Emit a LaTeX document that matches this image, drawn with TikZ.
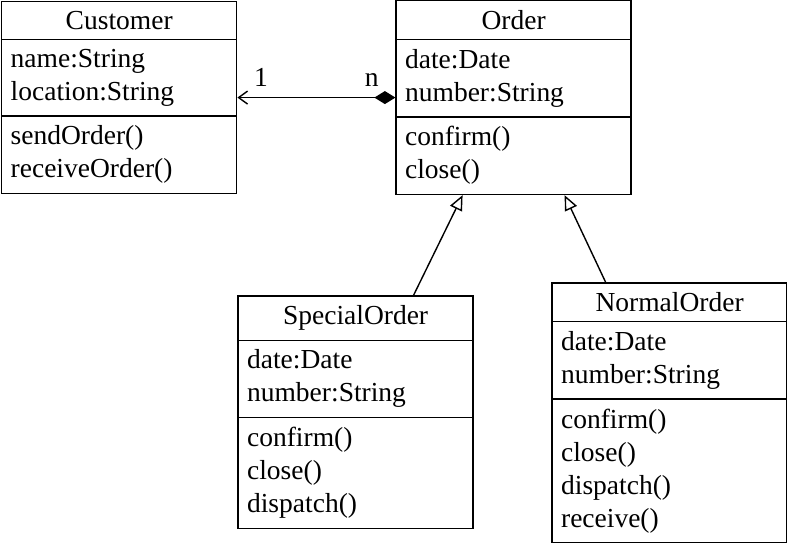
\documentclass[tikz,border=0pt]{standalone}
\usepackage{fontspec}
\setmainfont{Liberation Serif}
\usepackage{tikz}
\usetikzlibrary{arrows.meta, positioning, shapes.multipart}

\begin{document}
\begin{tikzpicture}[
    classbox/.style={draw, line width=0.7pt, rectangle split, rectangle split parts=3,
        text width=108.5pt, inner xsep=4.5pt, inner ysep=4.5pt,
        font=\fontsize{13.75pt}{16.5pt}\selectfont},
    assoc/.style={line width=0.7pt, {Diamond[length=10.5pt, width=6.5pt]}-{Straight Barb[length=4.5pt, width=6.5pt]}},
    inherit/.style={line width=0.7pt, -{Triangle[open, length=7.5pt, width=6.5pt]}},
    mult/.style={font=\fontsize{13.75pt}{16.5pt}\selectfont, inner sep=1pt},
]
\useasboundingbox (0,0) rectangle (393.5pt,-271pt);

% Classes
\node[classbox, anchor=north west] (customer) at (0.5pt,-0.5pt)
    {{\centering Customer\par} \nodepart{two} name:String\\location:String \nodepart{three} sendOrder()\\receiveOrder()};
\node[classbox, right=79pt of customer] (order)
    {{\centering Order\par} \nodepart{two} date:Date\\number:String \nodepart{three} confirm()\\close()};

% Subclasses
\node[classbox, below=50pt of order, xshift=-79pt] (special)
    {{\centering SpecialOrder\par} \nodepart{two} date:Date\\number:String \nodepart{three} confirm()\\close()\\dispatch()};
\node[classbox, below=43.5pt of order, xshift=78pt] (normal)
    {{\centering NormalOrder\par} \nodepart{two} date:Date\\number:String \nodepart{three} confirm()\\close()\\dispatch()\\receive()};

% Association
\draw[assoc] (order.west) -- node[mult, pos=0.15, above=4pt] (mn) {n}
    node[mult, pos=0.85, above=4pt] (m1) {1} (customer.east);

% Generalization
\draw[inherit] ([xshift=29pt]special.north) -- ([xshift=-25.5pt]order.south);
\draw[inherit] ([xshift=-32pt]normal.north) -- ([xshift=25.5pt]order.south);

\end{tikzpicture}
\end{document}
